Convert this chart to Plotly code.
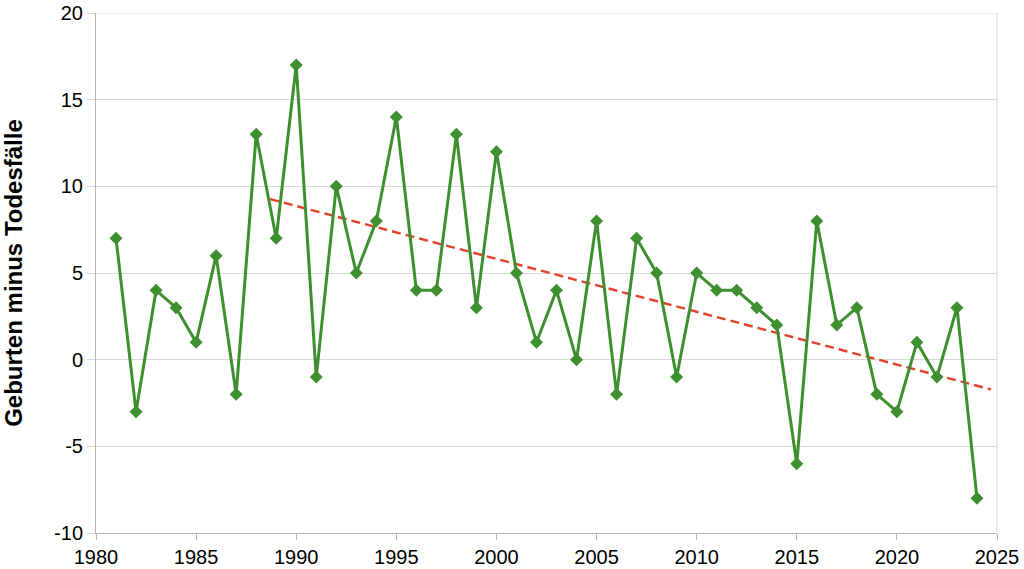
import numpy as np
import plotly.graph_objects as go

years = list(range(1981, 2025))
saldo = [7, -3, 4, 3, 1, 6, -2, 13, 7, 17, -1, 10, 5, 8, 14, 4, 4, 13, 3, 12,
         5, 1, 4, 0, 8, -2, 7, 5, -1, 5, 4, 4, 3, 2, -6, 8, 2, 3, -2, -3,
         1, -1, 3, -8]
y_ticks = [-10, -5, 0, 5, 10, 15, 20]
y_ticklabels = ["-10", "-5", "0", "5", "10", "15", "20"]

# linear trend over 1989-2024
fit_years = [y for y in years if y >= 1989]
fit_vals = [v for y, v in zip(years, saldo) if y >= 1989]
slope, intercept = np.polyfit(fit_years, fit_vals, 1)
trend_x = np.array([fit_years[0] - 0.3, fit_years[-1] + 0.7])
trend_y = slope * trend_x + intercept

green = "#3d8f2f"
grid = "#d9d9d9"
axis_col = "#b3b3b3"

fig = go.Figure()
fig.add_trace(go.Scatter(
    x=trend_x, y=trend_y, mode="lines",
    line=dict(color="#e3412b", width=2.4, dash="9px,5px"),
    hoverinfo="skip", showlegend=False,
))
fig.add_trace(go.Scatter(
    x=years, y=saldo, mode="lines+markers",
    line=dict(color=green, width=3),
    marker=dict(symbol="diamond", size=10, color=green),
    showlegend=False,
))

fig.update_layout(
    width=1024, height=569,
    margin=dict(l=96, r=27, t=13, b=36),
    plot_bgcolor="white", paper_bgcolor="white",
    font=dict(family="Liberation Sans, Arial, sans-serif", size=20, color="black"),
)
fig.update_xaxes(
    range=[1980, 2025], tick0=1980, dtick=5, automargin=False,
    showgrid=False, showline=True, linecolor=axis_col, linewidth=1,
    ticks="outside", ticklen=6, tickcolor=axis_col,
    zeroline=False, ticklabeloverflow="allow",
)
fig.update_yaxes(
    range=[-10, 20], tickvals=y_ticks, ticktext=y_ticklabels, automargin=False,
    showgrid=True, gridcolor=grid, gridwidth=1,
    showline=True, linecolor=axis_col, linewidth=1,
    ticks="outside", ticklen=8, tickcolor=grid,
    zeroline=False, ticklabeloverflow="allow",
    title=dict(text="<b>Geburten minus Todesfälle</b>", font=dict(size=24), standoff=26),
)
# top gridline and right border of the plot area
fig.add_shape(type="line", xref="paper", yref="y", x0=0, x1=1, y0=20, y1=20,
              line=dict(color=grid, width=1), layer="below")
fig.add_shape(type="line", xref="paper", yref="paper", x0=1, x1=1, y0=0, y1=1,
              line=dict(color=grid, width=1), layer="below")

# drop the default page margin so the figure fills the window exactly
fig.write_html("out.html", config={"displayModeBar": False},
               post_script="document.body.style.margin='0';")
